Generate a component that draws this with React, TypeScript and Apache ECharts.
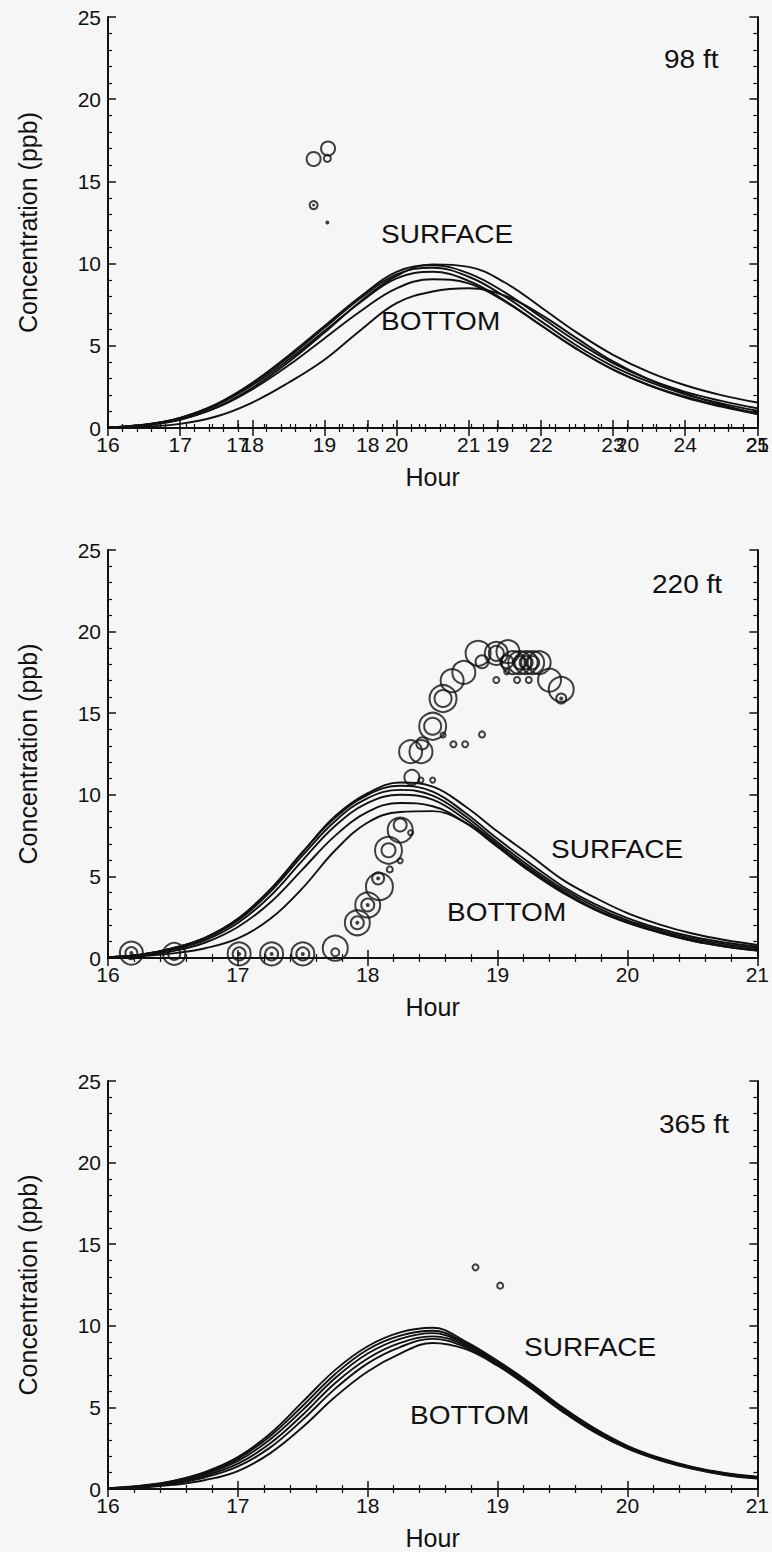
import React, { useEffect, useRef } from "react";
import * as echarts from "echarts";

// Hour grids the model curves are sampled on
const hoursWide = [16, 16.5, 17, 17.5, 18, 18.5, 19, 19.5, 20, 20.5, 21, 21.5, 22, 22.5, 23, 23.5, 24, 24.5, 25];
const hoursNarrow = [16, 16.25, 16.5, 16.75, 17, 17.25, 17.5, 17.75, 18, 18.25, 18.5, 18.75, 19, 19.25, 19.5, 19.75, 20, 20.25, 20.5, 20.75, 21];

// 98 ft: modelled concentration (ppb), surface to bottom
const c98a = [0.03, 0.15, 0.5, 1.25, 2.45, 4.0, 5.8, 7.7, 9.25, 9.95, 9.8, 8.85, 7.35, 5.8, 4.45, 3.4, 2.6, 2.0, 1.55];
const c98b = [0.04, 0.2, 0.62, 1.45, 2.75, 4.4, 6.2, 8.0, 9.5, 9.9, 9.4, 8.25, 6.75, 5.25, 3.95, 2.95, 2.2, 1.65, 1.2];
const c98c = [0.04, 0.2, 0.62, 1.42, 2.7, 4.3, 6.1, 7.9, 9.35, 9.75, 9.2, 8.0, 6.5, 5.0, 3.75, 2.8, 2.05, 1.5, 1.05];
const c98d = [0.04, 0.19, 0.6, 1.38, 2.6, 4.15, 5.9, 7.65, 9.1, 9.5, 8.95, 7.75, 6.25, 4.8, 3.55, 2.6, 1.9, 1.35, 0.92];
const c98e = [0.03, 0.17, 0.52, 1.22, 2.35, 3.8, 5.45, 7.1, 8.5, 9.05, 8.8, 7.7, 6.25, 4.8, 3.55, 2.6, 1.85, 1.3, 0.85];
const c98f = [0.01, 0.07, 0.25, 0.7, 1.55, 2.75, 4.15, 5.95, 7.6, 8.3, 8.5, 8.05, 6.9, 5.45, 4.05, 2.95, 2.1, 1.42, 0.85];

// 220 ft
const c220a = [0.05, 0.2, 0.6, 1.25, 2.4, 4.2, 6.5, 8.7, 10.1, 10.75, 10.5, 9.3, 7.75, 6.3, 4.8, 3.7, 2.75, 2.05, 1.5, 1.1, 0.8];
const c220b = [0.05, 0.2, 0.6, 1.25, 2.4, 4.2, 6.5, 8.6, 10.0, 10.55, 10.2, 8.9, 7.3, 5.8, 4.4, 3.3, 2.45, 1.8, 1.3, 0.95, 0.7];
const c220c = [0.05, 0.2, 0.58, 1.2, 2.3, 4.05, 6.3, 8.4, 9.8, 10.3, 9.95, 8.7, 7.1, 5.6, 4.25, 3.15, 2.3, 1.7, 1.2, 0.85, 0.6];
const c220d = [0.04, 0.18, 0.52, 1.1, 2.15, 3.8, 6.0, 8.1, 9.5, 10.0, 9.7, 8.5, 6.95, 5.45, 4.1, 3.0, 2.2, 1.6, 1.1, 0.75, 0.5];
const c220e = [0.03, 0.14, 0.42, 0.95, 1.9, 3.4, 5.45, 7.5, 8.95, 9.5, 9.3, 8.3, 6.8, 5.3, 4.0, 2.95, 2.15, 1.55, 1.05, 0.7, 0.45];
const c220f = [0.02, 0.1, 0.28, 0.6, 1.2, 2.4, 4.3, 6.6, 8.3, 8.95, 9.0, 8.3, 6.9, 5.4, 4.1, 3.0, 2.2, 1.55, 1.05, 0.7, 0.45];

// 365 ft
const c365a = [0.05, 0.2, 0.5, 1.05, 1.95, 3.4, 5.35, 7.3, 8.75, 9.6, 9.88, 9.05, 7.85, 6.5, 5.0, 3.7, 2.65, 1.9, 1.35, 0.98, 0.75];
const c365b = [0.05, 0.18, 0.48, 1.0, 1.85, 3.25, 5.1, 7.05, 8.55, 9.4, 9.7, 8.95, 7.8, 6.42, 4.92, 3.64, 2.6, 1.86, 1.32, 0.95, 0.72];
const c365c = [0.04, 0.16, 0.44, 0.92, 1.72, 3.05, 4.85, 6.8, 8.3, 9.2, 9.55, 8.88, 7.72, 6.35, 4.86, 3.58, 2.56, 1.83, 1.3, 0.93, 0.7];
const c365d = [0.04, 0.14, 0.38, 0.82, 1.55, 2.8, 4.55, 6.5, 8.0, 8.95, 9.35, 8.8, 7.65, 6.3, 4.82, 3.54, 2.52, 1.8, 1.28, 0.9, 0.68];
const c365e = [0.03, 0.12, 0.33, 0.72, 1.38, 2.55, 4.25, 6.15, 7.7, 8.7, 9.2, 8.7, 7.6, 6.25, 4.78, 3.5, 2.5, 1.78, 1.26, 0.88, 0.66];
const c365f = [0.02, 0.08, 0.25, 0.55, 1.1, 2.2, 3.8, 5.65, 7.2, 8.3, 8.95, 8.58, 7.55, 6.2, 4.74, 3.46, 2.47, 1.76, 1.24, 0.86, 0.64];

// Measured samples: [hour, ppb, ring diameter]
const rings98 = [
  [18.85, 16.36, 14], [19.05, 17.0, 14], [19.04, 16.4, 7], [18.85, 13.56, 8],
];
const dots98 = [[18.85, 13.56, 3], [19.04, 12.5, 4]];

const rings220 = [
  [16.18, 0.3, 23], [16.18, 0.3, 12], [16.51, 0.25, 22], [16.51, 0.25, 12],
  [17.01, 0.25, 23], [17.01, 0.25, 13], [17.26, 0.25, 23], [17.26, 0.25, 13],
  [17.5, 0.25, 23], [17.5, 0.25, 13], [17.75, 0.6, 25], [17.75, 0.35, 8],
  [17.92, 2.16, 25], [17.92, 2.16, 13], [18.0, 3.25, 25], [18.0, 3.25, 13],
  [18.09, 4.37, 27], [18.08, 4.88, 12], [18.17, 5.43, 6], [18.16, 6.6, 27], [18.16, 6.6, 14],
  [18.25, 5.96, 5], [18.25, 7.84, 25], [18.25, 8.15, 13], [18.33, 7.68, 5],
  [18.34, 11.07, 15], [18.41, 10.9, 5], [18.5, 10.9, 5],
  [18.33, 12.64, 23], [18.41, 12.64, 23], [18.42, 13.15, 12],
  [18.5, 14.2, 27], [18.5, 14.2, 17], [18.58, 13.66, 5], [18.66, 13.1, 6], [18.75, 13.1, 6], [18.88, 13.7, 6],
  [18.58, 15.9, 27], [18.58, 15.9, 17], [18.65, 17.0, 23], [18.74, 17.5, 23],
  [18.85, 18.67, 25], [18.88, 18.15, 13], [18.99, 18.67, 23], [18.99, 18.67, 15],
  [19.08, 18.77, 23], [19.07, 18.15, 13],
  [19.12, 18.1, 23], [19.17, 18.1, 23], [19.17, 18.1, 13], [19.22, 18.1, 23], [19.22, 18.1, 13],
  [19.27, 18.1, 23], [19.27, 18.1, 13], [19.32, 18.1, 23],
  [19.07, 17.54, 5], [18.99, 17.03, 6], [19.15, 17.03, 6], [19.24, 17.03, 6],
  [19.4, 17.03, 23], [19.49, 16.46, 25], [19.49, 15.9, 10],
];
const dots220 = [
  [16.18, 0.3, 4], [17.01, 0.25, 4], [17.26, 0.25, 4], [17.5, 0.25, 4],
  [17.92, 2.16, 4], [18.0, 3.25, 4], [18.08, 4.88, 4], [19.49, 15.9, 4],
];

const rings365 = [[18.83, 13.58, 6], [19.02, 12.46, 6]];

const FONT = '"Liberation Sans", Arial, Helvetica, sans-serif';
const INK = "#111111";

const GRIDS = [
  { left: 108, top: 17, width: 652, height: 411 },
  { left: 108, top: 550, width: 652, height: 408 },
  { left: 108, top: 1081, width: 652, height: 408 },
];

function xAxisDef(
  gridIndex: number, min: number, max: number, position: "top" | "bottom",
  labels: boolean, name?: string, showMin = true,
) {
  return {
    type: "value",
    gridIndex,
    min,
    max,
    interval: 1,
    position,
    name: name || "",
    nameLocation: "middle",
    nameGap: 36,
    nameTextStyle: { fontFamily: FONT, fontSize: 25, color: INK },
    axisLine: { show: true, lineStyle: { color: INK, width: 2 } },
    axisTick: { show: true, inside: true, length: 8, lineStyle: { color: INK, width: 1.5 } },
    minorTick: { show: true, splitNumber: 5, length: 4, lineStyle: { color: INK, width: 1.2 } },
    axisLabel: {
      show: labels, fontFamily: FONT, fontSize: 21, color: INK, margin: 6,
      showMinLabel: showMin, showMaxLabel: true,
    },
    splitLine: { show: false },
  };
}

function yAxisDef(gridIndex: number, position: "left" | "right", labels: boolean) {
  return {
    type: "value",
    gridIndex,
    min: 0,
    max: 25,
    interval: 5,
    position,
    name: labels ? "Concentration (ppb)" : "",
    nameLocation: "middle",
    nameGap: 68,
    nameTextStyle: { fontFamily: FONT, fontSize: 25, color: INK },
    axisLine: { show: true, lineStyle: { color: INK, width: 2 } },
    axisTick: { show: true, inside: true, length: 8, lineStyle: { color: INK, width: 1.5 } },
    minorTick: { show: true, splitNumber: 5, length: 4, lineStyle: { color: INK, width: 1.2 } },
    axisLabel: { show: labels, fontFamily: FONT, fontSize: 21, color: INK, margin: 7 },
    splitLine: { show: false },
  };
}

function curve(xs: number[], ys: number[], xAxisIndex: number, yAxisIndex: number) {
  return {
    type: "line",
    xAxisIndex,
    yAxisIndex,
    data: xs.map((x, i) => [x, ys[i]]),
    smooth: 0.4,
    symbol: "none",
    lineStyle: { color: INK, width: 1.9 },
    silent: true,
    z: 2,
  };
}

function ringSeries(pts: number[][], xAxisIndex: number, yAxisIndex: number) {
  return {
    type: "scatter",
    xAxisIndex,
    yAxisIndex,
    data: pts,
    symbol: "circle",
    symbolSize: (v: number[]) => v[2],
    itemStyle: { color: "rgba(0,0,0,0)", borderColor: INK, borderWidth: 2 },
    silent: true,
    z: 3,
  };
}

function dotSeries(pts: number[][], xAxisIndex: number, yAxisIndex: number) {
  return {
    type: "scatter",
    xAxisIndex,
    yAxisIndex,
    data: pts,
    symbol: "circle",
    symbolSize: (v: number[]) => v[2],
    itemStyle: { color: INK },
    silent: true,
    z: 3,
  };
}

// Panel annotations, drawn a little wide like the original lettering
function label(text: string, x: number, y: number, size = 25) {
  return {
    type: "text",
    x,
    y,
    scaleX: 1.12,
    z: 10,
    style: { text, fill: INK, fontFamily: FONT, fontSize: size, align: "left", verticalAlign: "middle" },
  };
}

export default function App() {
  const ref = useRef<HTMLDivElement>(null);

  useEffect(() => {
    document.body.style.margin = "0";
    if (!ref.current) return;
    const chart = echarts.init(ref.current, undefined, { renderer: "svg" });

    const xAxis = [
      xAxisDef(0, 16, 25, "bottom", true, "Hour"), // 0
      xAxisDef(0, 16, 25, "top", false), // 1
      xAxisDef(0, 16, 21, "bottom", true, "", false), // 2
      xAxisDef(1, 16, 21, "bottom", true, "Hour"), // 3
      xAxisDef(1, 16, 21, "top", false), // 4
      xAxisDef(2, 16, 21, "bottom", true, "Hour"), // 5
      xAxisDef(2, 16, 21, "top", false), // 6
    ];
    const yAxis = [
      yAxisDef(0, "left", true),
      yAxisDef(0, "right", false),
      yAxisDef(1, "left", true),
      yAxisDef(1, "right", false),
      yAxisDef(2, "left", true),
      yAxisDef(2, "right", false),
    ];

    const series: any[] = [
      ...[c98a, c98b, c98c, c98d, c98e, c98f].map((c) => curve(hoursWide, c, 0, 0)),
      ...[c220a, c220b, c220c, c220d, c220e, c220f].map((c) => curve(hoursNarrow, c, 3, 2)),
      ...[c365a, c365b, c365c, c365d, c365e, c365f].map((c) => curve(hoursNarrow, c, 5, 4)),
      ringSeries(rings98, 0, 0),
      dotSeries(dots98, 0, 0),
      ringSeries(rings220, 3, 2),
      dotSeries(dots220, 3, 2),
      ringSeries(rings365, 5, 4),
    ];

    chart.setOption({
      animation: false,
      backgroundColor: "#f6f6f6",
      grid: GRIDS,
      xAxis,
      yAxis,
      series,
      graphic: [
        label("98 ft", 664, 60),
        label("SURFACE", 381, 235),
        label("BOTTOM", 381, 322),
        label("220 ft", 652, 585),
        label("SURFACE", 551, 850),
        label("BOTTOM", 447, 913),
        label("365 ft", 659, 1125),
        label("SURFACE", 524, 1348),
        label("BOTTOM", 410, 1416),
      ],
    });

    return () => chart.dispose();
  }, []);

  return <div ref={ref} style={{ width: 772, height: 1552 }} />;
}
